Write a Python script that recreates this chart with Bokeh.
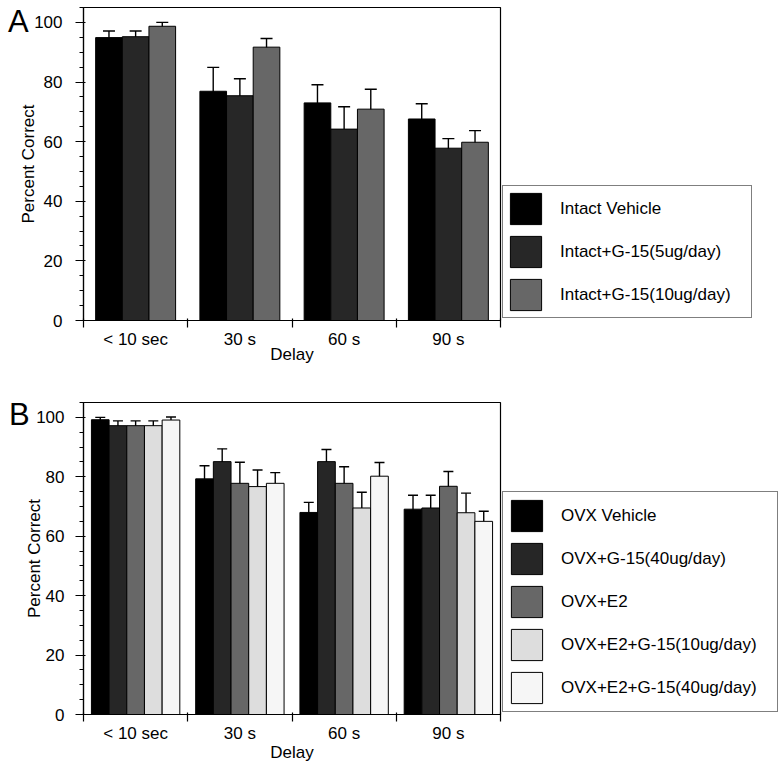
from bokeh.plotting import figure
from bokeh.models import (ColumnDataSource, Whisker, TeeHead, FixedTicker, SingleIntervalTicker,
                          Range1d, Legend, LegendItem, Div)
from bokeh.layouts import column
from bokeh.embed import file_html
from bokeh.resources import INLINE

# ---------------- data ----------------
delays = ["< 10 sec", "30 s", "60 s", "90 s"]

a_names = ["Intact Vehicle", "Intact+G-15(5ug/day)", "Intact+G-15(10ug/day)"]
a_vehicle = [94.9, 76.9, 73.0, 67.6]
a_vehicle_err = [2.2, 8.0, 6.1, 5.1]
a_g15_5 = [95.2, 75.4, 64.2, 57.8]
a_g15_5_err = [1.9, 5.7, 7.5, 3.2]
a_g15_10 = [98.7, 91.7, 70.9, 59.8]
a_g15_10_err = [1.3, 2.9, 6.7, 3.9]

b_names = ["OVX Vehicle", "OVX+G-15(40ug/day)", "OVX+E2",
           "OVX+E2+G-15(10ug/day)", "OVX+E2+G-15(40ug/day)"]
b_vehicle = [99.2, 79.3, 68.0, 69.1]
b_vehicle_err = [0.8, 4.4, 3.4, 4.7]
b_g15_40 = [97.2, 85.1, 85.1, 69.5]
b_g15_40_err = [1.6, 4.3, 4.1, 4.3]
b_e2 = [97.2, 77.8, 77.8, 76.8]
b_e2_err = [1.6, 7.1, 5.6, 5.0]
b_e2_g15_10 = [97.2, 76.7, 69.5, 67.9]
b_e2_g15_10_err = [1.6, 5.6, 5.3, 6.6]
b_e2_g15_40 = [99.1, 77.8, 80.2, 65.0]
b_e2_g15_40_err = [1.0, 3.6, 4.6, 3.4]

a_colors = ["#000000", "#272727", "#676767"]
b_colors = ["#000000", "#262626", "#676767", "#dddddd", "#f6f6f6"]

panel_letters = ["A", "B"]

FONT = "Liberation Sans"


def make_panel(names, values, errors, colors, group_frac, tee,
               left, top, bottom, right, frame_h, label_width, pad,
               ylab_standoff, ytick_standoff, xlab_standoff):
    n_cat = len(delays)
    p = figure(frame_width=417, frame_height=frame_h,
               x_range=Range1d(0, n_cat), y_range=Range1d(0, 105),
               output_backend="svg", toolbar_location=None,
               min_border_left=left, min_border_top=top,
               min_border_bottom=bottom, min_border_right=right)
    p.xgrid.visible = False
    p.ygrid.visible = False
    p.outline_line_color = "black"
    p.outline_line_width = 1.2
    p.background_fill_color = "white"
    p.border_fill_color = "white"

    n = len(names)
    w = group_frac / n
    items = []
    for j, (name, vals, errs, col) in enumerate(zip(names, values, errors, colors)):
        xs = [i + 0.5 + (j - (n - 1) / 2) * w for i in range(n_cat)]
        src = ColumnDataSource(dict(
            x=xs, top=vals,
            upper=[v + e for v, e in zip(vals, errs)],
            lower=[v - e for v, e in zip(vals, errs)],
        ))
        r = p.vbar(x="x", top="top", bottom=0, width=w, source=src,
                   fill_color=col, line_color="black", line_width=1)
        wh = Whisker(base="x", upper="upper", lower="lower", source=src,
                     line_color="black", line_width=1.4,
                     upper_head=TeeHead(size=tee, line_width=1.4, line_color="black"),
                     lower_head=TeeHead(size=tee, line_width=1.4, line_color="black"))
        p.add_layout(wh)
        items.append(LegendItem(label=name, renderers=[r]))

    ya = p.yaxis[0]
    ya.ticker = SingleIntervalTicker(interval=20, num_minor_ticks=4)
    ya.axis_label = "Percent Correct"
    ya.major_tick_out = 8
    ya.major_tick_in = 2
    ya.minor_tick_out = 4
    ya.minor_tick_in = 0
    ya.major_label_standoff = ytick_standoff
    ya.axis_label_standoff = ylab_standoff
    xa = p.xaxis[0]
    xa.ticker = FixedTicker(ticks=[i + 0.5 for i in range(n_cat)],
                            minor_ticks=list(range(n_cat + 1)))
    xa.major_label_overrides = {i + 0.5: d for i, d in enumerate(delays)}
    xa.axis_label = "Delay"
    xa.major_tick_out = 0
    xa.major_tick_in = 0
    xa.minor_tick_out = 7
    xa.minor_tick_in = 2
    xa.major_label_standoff = 2
    xa.axis_label_standoff = xlab_standoff
    for ax in (xa, ya):
        ax.axis_line_color = "black"
        ax.axis_line_width = 1.2
        ax.major_tick_line_color = "black"
        ax.minor_tick_line_color = "black"
        ax.major_tick_line_width = 1.2
        ax.minor_tick_line_width = 1.2
        ax.major_label_text_font = FONT
        ax.major_label_text_font_size = "17px"
        ax.major_label_text_color = "black"
        ax.axis_label_text_font = FONT
        ax.axis_label_text_font_size = "17px"
        ax.axis_label_text_font_style = "normal"
        ax.axis_label_text_color = "black"

    legend = Legend(items=items, location="bottom_left", margin=2, padding=pad,
                    spacing=4, glyph_width=39, glyph_height=39, label_standoff=15,
                    label_width=label_width,
                    label_text_font=FONT, label_text_font_size="17px",
                    label_text_color="black",
                    border_line_color="black", border_line_width=1.2,
                    background_fill_color="white", background_fill_alpha=1.0)
    p.add_layout(legend, "right")
    return p


def letter_div(letter, left, top):
    return Div(text=f'<div style="position:absolute; left:{left}px; top:{top}px; z-index:100; '
                    f'font-family:\'Liberation Sans\'; font-size:31px; line-height:1; '
                    f'color:black;">{letter}</div>',
               width=0, height=0, margin=0)


pA = make_panel(a_names,
                [a_vehicle, a_g15_5, a_g15_10],
                [a_vehicle_err, a_g15_5_err, a_g15_10_err],
                a_colors, 0.767, 12, left=80, top=7, bottom=59, right=280, frame_h=313,
                label_width=188, pad=3, ylab_standoff=-7, ytick_standoff=13,
                xlab_standoff=-7)

pB = make_panel(b_names,
                [b_vehicle, b_g15_40, b_e2, b_e2_g15_10, b_e2_g15_40],
                [b_vehicle_err, b_g15_40_err, b_e2_err, b_e2_g15_10_err, b_e2_g15_40_err],
                b_colors, 0.848, 10, left=83, top=23, bottom=48, right=0, frame_h=312,
                label_width=212, pad=4, ylab_standoff=-11, ytick_standoff=11,
                xlab_standoff=-3)

divA = letter_div(panel_letters[0], 8, 6)
divB = letter_div(panel_letters[1], 9, 399)

layout = column(divA, divB, pA, pB, spacing=0)
open("out.html", "w").write(file_html(layout, INLINE))
